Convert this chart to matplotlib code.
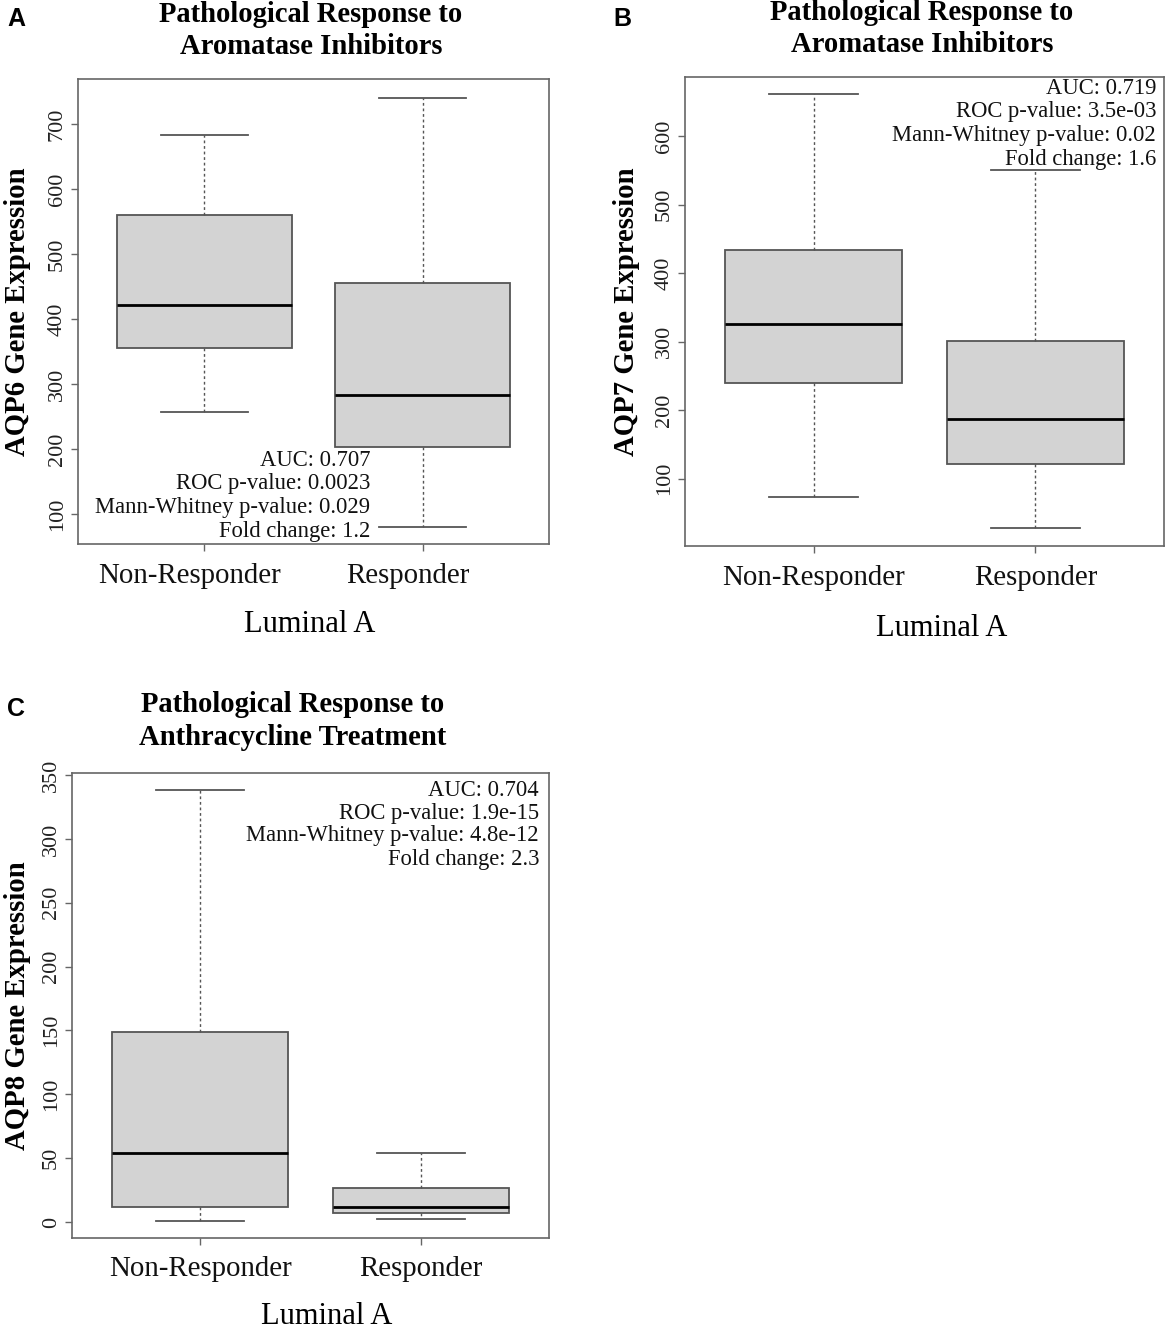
import matplotlib
matplotlib.use("Agg")
import matplotlib.pyplot as plt
import matplotlib.transforms as mtransforms

plt.rcParams['font.family'] = ['Liberation Serif', 'DejaVu Serif']

W, H = 1165, 1331

groups = ['Non-Responder', 'Responder']

# panel A - AQP6
a_whislo = [257, 80]
a_q1 = [355, 203]
a_med = [422, 283]
a_q3 = [560, 455]
a_whishi = [683, 741]
a_stats = ['AUC: 0.707', 'ROC p-value: 0.0023', 'Mann-Whitney p-value: 0.029', 'Fold change: 1.2']

# panel B - AQP7
b_whislo = [73, 28]
b_q1 = [240, 121]
b_med = [326, 187]
b_q3 = [434, 301]
b_whishi = [661, 551]
b_stats = ['AUC: 0.719', 'ROC p-value: 3.5e-03', 'Mann-Whitney p-value: 0.02', 'Fold change: 1.6']

# panel C - AQP8
c_whislo = [1, 2]
c_q1 = [12, 7]
c_med = [54, 12]
c_q3 = [149, 27]
c_whishi = [338, 54]
c_stats = ['AUC: 0.704', 'ROC p-value: 1.9e-15', 'Mann-Whitney p-value: 4.8e-12', 'Fold change: 2.3']

fig = plt.figure(figsize=(W / 100, H / 100), dpi=100)

EDGE = '#555555'
FRAME = '#666666'
TICK_LEN = 5  # pt


def px_axes(l, t, r, b):
    return fig.add_axes([l / W, 1 - b / H, (r - l) / W, (b - t) / H])


def draw_panel(box, lo, q1, med, q3, hi, ylim, yticks, ylabel, ylab_x, title,
               title_x, title_y, xlab_x, xlab_y, xtick_y, xtick_dx, stats, stats_x,
               stats_y, letter, letter_xy):
    l, t, r, b = box
    ax = px_axes(l, t, r, b)
    bstats = []
    for i in range(len(groups)):
        bstats.append(dict(whislo=lo[i], q1=q1[i], med=med[i], q3=q3[i],
                           whishi=hi[i], fliers=[], label=groups[i]))
    ax.bxp(bstats, positions=[1, 2], widths=0.8, capwidths=0.4, patch_artist=True,
           showfliers=False,
           boxprops=dict(facecolor='#d3d3d3', edgecolor=EDGE, linewidth=1.3),
           medianprops=dict(color='black', linewidth=2.0, solid_capstyle='butt'),
           whiskerprops=dict(color=EDGE, linewidth=1.0, linestyle=(0, (2, 2))),
           capprops=dict(color=EDGE, linewidth=1.3))
    ax.set_xlim(0.42, 2.58)
    ax.set_ylim(*ylim)
    ax.set_yticks(yticks)
    ax.set_yticklabels([str(v) for v in yticks], rotation=90, va='center',
                       fontsize=16, color='#222222')
    ax.set_xticks([1, 2])
    ax.set_xticklabels(groups, fontsize=20.8, color='#111111', va='center')
    xpad = (xtick_y - b) * 0.72 - TICK_LEN
    ax.tick_params(axis='y', length=TICK_LEN, width=1.0, color=FRAME, pad=3)
    ax.tick_params(axis='x', length=TICK_LEN, width=1.0, color=FRAME, pad=xpad)
    if xtick_dx:
        shift = mtransforms.ScaledTranslation(xtick_dx / 100, 0, fig.dpi_scale_trans)
        for lab in ax.get_xticklabels():
            lab.set_transform(lab.get_transform() + shift)
    for sp in ax.spines.values():
        sp.set_color(FRAME)
        sp.set_linewidth(1.2)

    ax.set_ylabel(ylabel, fontsize=20.7, fontweight='bold', va='center')
    ax.yaxis.set_label_coords((ylab_x - l) / (r - l), 0.5)
    ax.set_xlabel('Luminal A', fontsize=22, va='center')
    ax.xaxis.set_label_coords((xlab_x - l) / (r - l), (b - xlab_y) / (b - t))

    for k, line in enumerate(title):
        fig.text(title_x / W, 1 - title_y[k] / H, line, ha='center', va='center',
                 fontsize=20.6, fontweight='bold')

    for k, line in enumerate(stats):
        ax.text((stats_x - l) / (r - l), (b - stats_y[k]) / (b - t), line,
                transform=ax.transAxes, ha='right', va='center', fontsize=16.3,
                color='#111111')

    fig.text(letter_xy[0] / W, 1 - letter_xy[1] / H, letter, ha='center', va='center',
             fontsize=18, fontweight='bold', family=['Liberation Sans', 'DejaVu Sans'])
    return ax


draw_panel((78, 79, 549, 544), a_whislo, a_q1, a_med, a_q3, a_whishi,
           (53.5, 770), [100, 200, 300, 400, 500, 600, 700], 'AQP6 Gene Expression', 18,
           ['Pathological Response to', 'Aromatase Inhibitors'], 311, [14, 46],
           310, 625, 576, -15, a_stats, 370, [461, 484, 507, 531], 'A', (16, 19))

draw_panel((685, 77, 1164, 546), b_whislo, b_q1, b_med, b_q3, b_whishi,
           (2, 686), [100, 200, 300, 400, 500, 600], 'AQP7 Gene Expression', 626,
           ['Pathological Response to', 'Aromatase Inhibitors'], 922, [13, 45],
           942, 628, 578, 0, b_stats, 1156, [89, 112, 136, 159], 'B', (622, 19))

draw_panel((72, 773, 549, 1238), c_whislo, c_q1, c_med, c_q3, c_whishi,
           (-12.5, 351.6), [0, 50, 100, 150, 200, 250, 300, 350], 'AQP8 Gene Expression', 18,
           ['Pathological Response to', 'Anthracycline Treatment'], 293, [704, 737],
           327, 1316, 1269, 0, c_stats, 539, [790, 813, 836, 860], 'C', (16, 709))

fig.savefig('out.png', dpi=100)
